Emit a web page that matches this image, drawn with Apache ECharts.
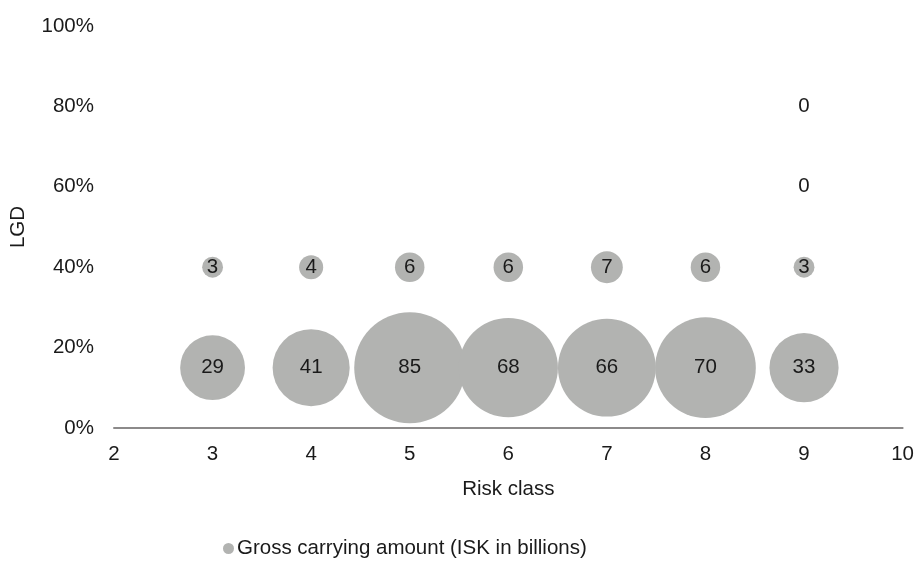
<!DOCTYPE html>
<html>
<head>
<meta charset="utf-8">
<script src="https://cdn.jsdelivr.net/npm/echarts@6/dist/echarts.min.js"></script>
<style>
  html, body { margin: 0; padding: 0; background: #ffffff; }
  #chart { width: 917px; height: 561px; }
</style>
</head>
<body>
<div id="chart"></div>
<script>
// Risk class (x), LGD (y) and gross carrying amount in ISK billions (bubble size)
const riskClass = [3, 4, 5, 6, 7, 8, 9, 3, 4, 5, 6, 7, 8, 9, 9, 9];
const lgd       = [0.15, 0.15, 0.15, 0.15, 0.15, 0.15, 0.15, 0.40, 0.40, 0.40, 0.40, 0.40, 0.40, 0.40, 0.60, 0.80];
const amount    = [29, 41, 85, 68, 66, 70, 33, 3, 4, 6, 6, 7, 6, 3, 0, 0];
const seriesName = 'Gross carrying amount (ISK in billions)';
const yTicks = [0, 0.2, 0.4, 0.6, 0.8, 1.0];

const FONT = '"Liberation Sans", Arial, sans-serif';
const TEXT = '#1a1a1a';
const FS = 20.5;

// Bubble area proportional to amount: diameter scales with sqrt(value)
const maxAmount = Math.max(...amount);
const maxDiameter = 111;
const sizeOf = v => maxDiameter * Math.sqrt(v / maxAmount);

const points = riskClass.map((x, i) => [x, lgd[i], amount[i]]);

const chart = echarts.init(document.getElementById('chart'), null, { renderer: 'canvas' });
chart.setOption({
  animation: false,
  backgroundColor: '#ffffff',
  textStyle: { fontFamily: FONT },
  grid: { left: 113, right: 14, top: 26, bottom: 133, containLabel: false },
  legend: {
    data: [seriesName],
    left: 218,
    top: 533,
    icon: 'circle',
    itemWidth: 11,
    itemHeight: 11,
    itemGap: 4,
    textStyle: { fontFamily: FONT, fontSize: FS, color: TEXT, padding: [0, 0, 0, -2] }
  },
  xAxis: {
    type: 'value',
    min: 2,
    max: 10,
    interval: 1,
    name: 'Risk class',
    nameLocation: 'middle',
    nameGap: 51,
    nameTextStyle: { fontFamily: FONT, fontSize: FS, color: TEXT },
    axisLine: { show: true, onZero: false, lineStyle: { color: '#8c8a8a', width: 2 } },
    axisTick: { show: false },
    splitLine: { show: false },
    axisLabel: { fontFamily: FONT, fontSize: FS, color: TEXT, margin: 16 }
  },
  yAxis: {
    type: 'value',
    min: yTicks[0],
    max: yTicks[yTicks.length - 1],
    interval: 0.2,
    name: 'LGD',
    nameLocation: 'middle',
    nameGap: 85,
    nameTextStyle: { fontFamily: FONT, fontSize: FS, color: TEXT },
    axisLine: { show: false },
    axisTick: { show: false },
    splitLine: { show: false },
    axisLabel: {
      fontFamily: FONT, fontSize: FS, color: TEXT, margin: 20,
      formatter: v => Math.round(v * 100) + '%'
    }
  },
  series: [{
    name: seriesName,
    type: 'scatter',
    data: points,
    symbol: 'circle',
    symbolSize: d => sizeOf(d[2]),
    itemStyle: { color: '#b2b3b1', opacity: 1 },
    label: {
      show: true,
      position: 'inside',
      formatter: p => String(p.data[2]),
      fontFamily: FONT,
      fontSize: FS,
      color: TEXT
    },
    emphasis: { disabled: true }
  }]
});
</script>
</body>
</html>
